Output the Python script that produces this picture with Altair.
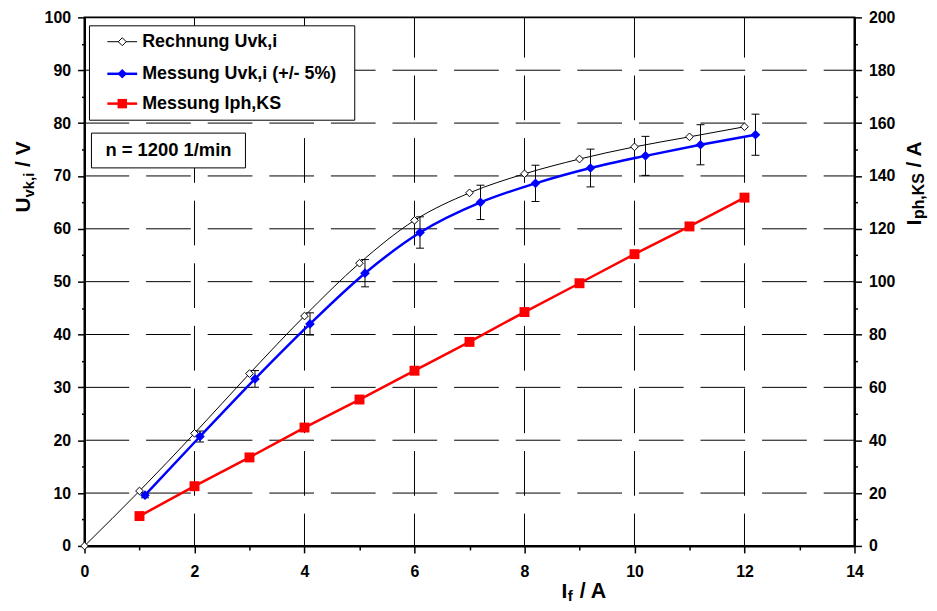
import altair as alt
import pandas as pd

# ---------------- data ----------------
calc_x = [0, 1, 2, 3, 4, 5, 6, 7, 8, 9, 10, 11, 12]
calc_u = [0, 10.4, 21.3, 32.6, 43.5, 53.5, 61.6, 66.8, 70.4, 73.2, 75.5, 77.4, 79.3]

meas_x = [1.1, 2.1, 3.1, 4.1, 5.1, 6.1, 7.2, 8.2, 9.2, 10.2, 11.2, 12.2]
meas_u = [9.6, 20.7, 31.6, 42.0, 51.6, 59.3, 65.0, 68.6, 71.5, 73.8, 75.9, 77.8]

iph_x = [1, 2, 3, 4, 5, 6, 7, 8, 9, 10, 11, 12]
iph_v = [11.3, 22.6, 33.5, 44.8, 55.4, 66.3, 77.2, 88.5, 99.4, 110.4, 120.9, 131.8]

series_names = ["Rechnung Uvk,i", "Messung Uvk,i (+/- 5%)", "Messung Iph,KS"]
annotation = "n = 1200 1/min"
x_major = list(range(0, 15, 2))
x_minor = list(range(1, 14, 2))
yl_major = list(range(0, 101, 10))
yl_minor = list(range(5, 100, 10))
yr_major = list(range(0, 201, 20))
yr_minor = list(range(10, 200, 20))
x_grid = list(range(2, 13, 2))
y_grid = list(range(10, 91, 10))

# ---------------- layout ----------------
W, H = 775, 532
FONT = "Liberation Sans"

df_calc = pd.DataFrame({"If": calc_x, "U": calc_u})
df_meas = pd.DataFrame({"If": meas_x, "U": meas_u})
df_iph = pd.DataFrame({"If": iph_x, "I": iph_v})
df_xg = pd.DataFrame({"If": x_grid})
df_yg = pd.DataFrame({"U": y_grid})
one = pd.DataFrame({"k": [0]})

xs = alt.Scale(domain=[0, 14], nice=False, zero=False)
yls = alt.Scale(domain=[0, 100], nice=False)
yrs = alt.Scale(domain=[0, 200], nice=False)

common = dict(title=None, labelOverlap=False, labelFlush=False, grid=False)


def major_axis(values, orient, pad):
    return alt.Axis(values=values, orient=orient, tickSize=7, labelPadding=pad, **common)


def minor_axis(values, orient, size):
    return alt.Axis(values=values, orient=orient, labels=False, domain=False,
                    tickSize=size, **common)


Xn = alt.X("If:Q", scale=xs, axis=None)

# dashed grid, positioned through the scales
grid_v = alt.Chart(df_xg).mark_rule(color="black", strokeWidth=1, strokeDash=[45, 18],
                                    strokeDashOffset=4.5).encode(
    x=Xn, y=alt.value(0), y2=alt.value(H))
grid_h = alt.Chart(df_yg).mark_rule(color="black", strokeWidth=1, strokeDash=[45, 17]).encode(
    y=alt.Y("U:Q", scale=yls, axis=None), x=alt.value(0), x2=alt.value(W))

# calculated curve (carries the major x axis and the major left axis)
calc_line = alt.Chart(df_calc).mark_line(color="black", strokeWidth=1, interpolate="monotone").encode(
    x=alt.X("If:Q", scale=xs, axis=major_axis(x_major, "bottom", 11)),
    y=alt.Y("U:Q", scale=yls, axis=major_axis(yl_major, "left", 7)))
# points carry the minor tick axes
calc_pts = alt.Chart(df_calc).mark_point(shape="diamond", filled=True, fill="white", stroke="black",
                                         strokeWidth=1, size=60, opacity=1).encode(
    x=alt.X("If:Q", scale=xs, axis=minor_axis(x_minor, "bottom", 4)),
    y=alt.Y("U:Q", scale=yls, axis=minor_axis(yl_minor, "left", 3)))

# measured curve with +/- 5 % error bars
meas_base = alt.Chart(df_meas)
meas_line = meas_base.mark_line(color="#0000ff", strokeWidth=2.5, interpolate="monotone").encode(
    x=Xn, y=alt.Y("U:Q", scale=yls, axis=None))
err = meas_base.transform_calculate(lo="datum.U * 0.95", hi="datum.U * 1.05")
err_rule = err.mark_rule(color="black", strokeWidth=1).encode(
    x=Xn, y=alt.Y("lo:Q", scale=yls, axis=None), y2="hi:Q")
err_lo = err.mark_tick(color="black", orient="horizontal", size=8, thickness=1, opacity=1).encode(
    x=Xn, y=alt.Y("lo:Q", scale=yls, axis=None))
err_hi = err.mark_tick(color="black", orient="horizontal", size=8, thickness=1, opacity=1).encode(
    x=Xn, y=alt.Y("hi:Q", scale=yls, axis=None))
meas_pts = meas_base.mark_point(shape="diamond", filled=True, color="#0000ff", size=95, opacity=1).encode(
    x=Xn, y=alt.Y("U:Q", scale=yls, axis=None))

# phase current on the right axis
iph_line = alt.Chart(df_iph).mark_line(color="#ff0000", strokeWidth=2.5).encode(
    x=Xn, y=alt.Y("I:Q", scale=yrs, axis=major_axis(yr_major, "right", 7)))
iph_pts = alt.Chart(df_iph).mark_point(shape="square", filled=True, color="#ff0000", size=100, opacity=1).encode(
    x=Xn, y=alt.Y("I:Q", scale=yrs, axis=minor_axis(yr_minor, "right", 3)))


def txt(s, x, y, size, angle=0, align="left", baseline="alphabetic"):
    kw = dict(text=s, font=FONT, fontSize=size, fontWeight="bold", align=align,
              baseline=baseline, color="black")
    if angle:
        kw["angle"] = angle
    return alt.Chart(one).mark_text(**kw).encode(x=alt.value(x), y=alt.value(y))


def box(x1, x2, y1, y2):
    return alt.Chart(one).mark_rect(fill="white", stroke="black", strokeWidth=1).encode(
        x=alt.value(x1), x2=alt.value(x2), y=alt.value(y1), y2=alt.value(y2))


deco = []
# legend box
deco.append(box(5, 272, 8.5, 103.5))
rows = [24.5, 56.8, 86.8]
deco.append(alt.Chart(one).mark_rule(color="black", strokeWidth=1).encode(
    x=alt.value(23), x2=alt.value(53), y=alt.value(rows[0])))
deco.append(alt.Chart(one).mark_point(shape="diamond", filled=True, fill="white", stroke="black",
                                      strokeWidth=1, size=64, opacity=1).encode(
    x=alt.value(38), y=alt.value(rows[0])))
deco.append(alt.Chart(one).mark_rule(color="#0000ff", strokeWidth=2.5).encode(
    x=alt.value(23), x2=alt.value(53), y=alt.value(rows[1])))
deco.append(alt.Chart(one).mark_point(shape="diamond", filled=True, color="#0000ff",
                                      size=90, opacity=1).encode(
    x=alt.value(38), y=alt.value(rows[1])))
deco.append(alt.Chart(one).mark_rule(color="#ff0000", strokeWidth=2.5).encode(
    x=alt.value(23), x2=alt.value(53), y=alt.value(rows[2])))
deco.append(alt.Chart(one).mark_point(shape="square", filled=True, color="#ff0000",
                                      size=90, opacity=1).encode(
    x=alt.value(38), y=alt.value(rows[2])))
for name, ry in zip(series_names, rows):
    deco.append(txt(name, 58, ry, 18, baseline="middle"))

# annotation box
deco.append(box(7, 162, 116.5, 151.5))
deco.append(txt(annotation, 84.5, 134, 18.5, align="center", baseline="middle"))

# axis titles with subscripts
deco += [
    txt("U", -55, 196.5, 21, angle=270),
    txt("vk,i", -51, 181.3, 15, angle=270),
    txt("/ V", -55, 150.5, 21, angle=270),
    txt("I", 842, 209.5, 21, angle=270),
    txt("ph,KS", 845, 203, 16, angle=270),
    txt("/ A", 842, 151, 21, angle=270),
    txt("I", 480, 584, 21),
    txt("f", 486.3, 587.5, 15),
    txt("/ A", 498.5, 584, 21.5),
]

layers = [grid_v, grid_h, calc_line, calc_pts, err_rule, err_lo, err_hi, meas_line, meas_pts,
          iph_line, iph_pts] + deco

chart = alt.layer(*layers).resolve_scale(y="independent").resolve_axis(
    x="independent", y="independent"
).properties(
    width=W, height=H,
    autosize=alt.AutoSizeParams(type="none"),
    padding={"left": 77, "top": 7.5, "right": 75, "bottom": 55.5},
).configure_view(
    stroke="black", strokeWidth=2
).configure_axis(
    labelFont=FONT, labelFontSize=16, labelFontWeight="bold", labelColor="black",
    domainColor="black", domainWidth=2, tickColor="black", tickWidth=1.5,
)

chart.save("out.html", embed_options={"renderer": "svg", "actions": False})
